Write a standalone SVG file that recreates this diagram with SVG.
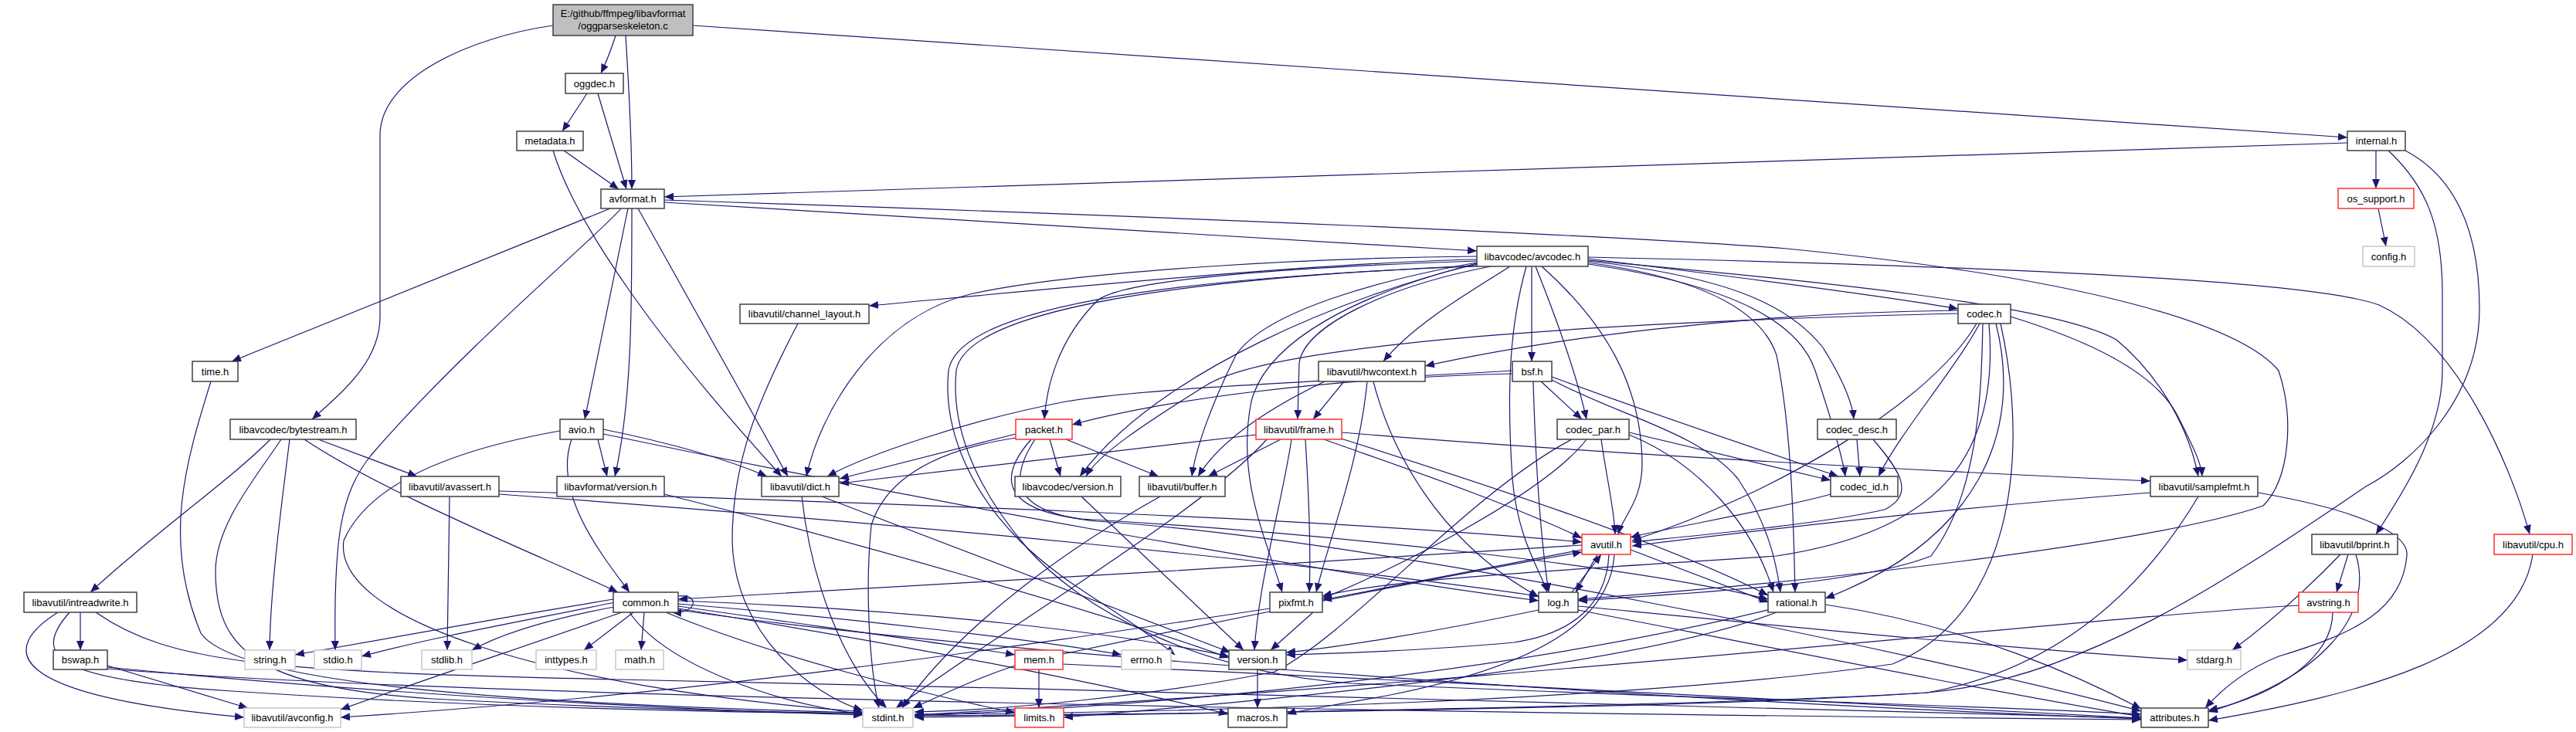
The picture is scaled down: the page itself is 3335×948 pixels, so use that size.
<svg xmlns="http://www.w3.org/2000/svg" width="3335" height="948" viewBox="0 0 3335 948">
<style>
rect{fill:#fff;stroke:#404040;stroke-width:1.5}
rect.gf{fill:#bfbfbf}
rect.r{stroke:#ff3030}
rect.g{stroke:#c8c8c8}
text{font-family:"Liberation Sans",Arial,sans-serif;font-size:13px;text-anchor:middle;fill:#000}
#edges path{fill:none;stroke:#191970;stroke-width:1.2;marker-end:url(#a)}
</style>
<defs><marker id="a" markerUnits="userSpaceOnUse" markerWidth="12" markerHeight="10" refX="12" refY="5" orient="auto"><path d="M0,0 L12,5 L0,10 z" fill="#191970"/></marker></defs>
<rect x="0" y="0" width="3335" height="948" style="fill:#fff;stroke:none"/>
<g id="edges">
<path d="M797,46 C792,62 785,80 778,95"/>
<path d="M810,46 C814,110 818,180 818,245"/>
<path d="M897,33 L3039,178"/>
<path d="M716,33 C610,48 492,100 492,175 L492,410 C492,470 440,510 404,543"/>
<path d="M760,121 L728,170"/>
<path d="M774,121 L811,245"/>
<path d="M730,195 L801,245"/>
<path d="M716,195 C745,290 850,440 1012,617"/>
<path d="M3039,185 L860,255"/>
<path d="M3076,195 L3076,244"/>
<path d="M3092,195 C3140,240 3162,290 3162,380 L3162,480 C3162,560 3110,640 3076,692"/>
<path d="M3114,195 C3180,230 3210,300 3210,400 C3210,520 3120,600 3063,630 C2900,740 2700,880 2495,897 C2200,918 1500,925 1184,927"/>
<path d="M3079,270 L3089,319"/>
<path d="M790,270 L300,468"/>
<path d="M804,270 C780,300 600,450 480,590 C440,640 432,700 434,842"/>
<path d="M813,270 L757,543"/>
<path d="M818,270 C818,400 818,520 796,617"/>
<path d="M826,270 L1020,617"/>
<path d="M860,262 L1912,325"/>
<path d="M860,259 C1500,280 2100,305 2313,322 C2700,360 2900,420 2950,480 C2970,540 2965,620 2930,655 C2800,700 2400,750 2043,776"/>
<path d="M1912,336 C1700,340 1300,380 1125,396"/>
<path d="M1912,332 C1700,334 1400,350 1260,380 C1130,410 1060,540 1044,617"/>
<path d="M1912,338 C1700,345 1450,360 1420,390 C1370,440 1355,500 1352,543"/>
<path d="M1912,342 C1750,380 1500,480 1398,617"/>
<path d="M1912,340 C1800,360 1640,400 1600,460 C1570,520 1548,580 1543,617"/>
<path d="M1912,345 C1500,360 1240,400 1228,480 C1220,560 1260,640 1320,700 C1380,760 1450,790 1521,848"/>
<path d="M1912,344 C1500,362 1250,405 1238,480 C1230,560 1270,640 1330,710 C1400,790 1550,870 1750,885 C2200,905 2600,915 2772,925"/>
<path d="M1930,345 C1800,370 1690,420 1682,470 L1680,543"/>
<path d="M1955,345 C1900,380 1830,420 1791,468"/>
<path d="M1983,345 L1983,468"/>
<path d="M1988,345 C2010,400 2040,480 2054,543"/>
<path d="M1996,345 C2080,420 2125,500 2126,600 C2126,650 2100,670 2095,692"/>
<path d="M1976,345 C1955,420 1950,500 1958,620 C1965,700 1995,740 2003,767"/>
<path d="M1912,341 C1760,380 1640,440 1620,520 C1600,620 1640,700 1660,767"/>
<path d="M2056,340 C2200,360 2280,400 2300,460 C2320,560 2322,680 2324,767"/>
<path d="M2056,342 C2250,370 2330,420 2350,480 C2370,540 2385,590 2389,617"/>
<path d="M2056,338 C2250,360 2320,400 2360,450 C2385,490 2398,520 2400,543"/>
<path d="M2056,335 C2300,365 2450,385 2535,400"/>
<path d="M2056,337 C2300,360 2650,390 2740,440 C2800,490 2835,560 2846,617"/>
<path d="M2056,333 C2600,345 3000,365 3080,395 C3180,440 3250,600 3275,692"/>
<path d="M2535,402 C2250,405 2000,440 1845,474"/>
<path d="M2535,406 C2150,415 1650,440 1560,500 C1480,550 1420,590 1406,617"/>
<path d="M2559,419 C2500,520 2300,640 2113,700"/>
<path d="M2563,419 C2530,480 2460,560 2432,617"/>
<path d="M2567,419 C2565,520 2560,640 2500,720 C2400,760 2150,770 2043,778"/>
<path d="M2575,419 C2590,600 2500,690 2300,720 C2000,740 1800,750 1712,772"/>
<path d="M2584,419 C2620,560 2560,700 2363,775"/>
<path d="M2590,419 C2630,600 2600,800 2450,860 C2100,910 1500,923 1184,925"/>
<path d="M2603,410 C2700,440 2790,480 2820,540 C2840,580 2850,600 2851,617"/>
<path d="M1958,484 C1700,490 1500,520 1388,550"/>
<path d="M1958,480 C1800,490 1500,500 1380,520 C1250,545 1120,590 1071,617"/>
<path d="M1995,494 L2048,543"/>
<path d="M2009,488 C2150,540 2300,590 2380,617"/>
<path d="M2009,492 C2100,540 2200,560 2250,620 C2290,680 2300,730 2305,767"/>
<path d="M1985,494 C1988,600 1995,700 2005,767"/>
<path d="M2109,560 L2370,622"/>
<path d="M2109,563 C2200,600 2270,680 2296,767"/>
<path d="M2073,569 C2080,620 2090,660 2091,692"/>
<path d="M2054,569 C2000,640 1800,740 1712,775"/>
<path d="M2035,569 C1900,640 1750,820 1650,870 C1500,900 1300,920 1184,922"/>
<path d="M2404,569 L2408,617"/>
<path d="M2425,569 C2460,610 2480,640 2440,660 C2350,680 2180,695 2113,702"/>
<path d="M2370,640 C2300,660 2150,685 2111,696"/>
<path d="M1315,562 L1087,620"/>
<path d="M1315,567 C1230,580 1150,610 1128,680 C1120,760 1125,860 1138,917"/>
<path d="M1359,569 L1373,617"/>
<path d="M1380,569 L1500,617"/>
<path d="M1335,569 C1290,620 1300,660 1400,672 C1700,690 2100,730 2289,776"/>
<path d="M1340,569 C1300,630 1320,665 1420,675 C1800,700 2500,850 2772,921"/>
<path d="M1626,563 L1087,626"/>
<path d="M1658,569 L1564,617"/>
<path d="M1737,560 C2100,590 2500,610 2784,623"/>
<path d="M1714,569 C1800,600 1950,650 2048,697"/>
<path d="M1730,566 C1900,620 2150,700 2289,771"/>
<path d="M1690,569 C1695,650 1697,720 1695,767"/>
<path d="M1672,569 C1660,650 1630,750 1624,842"/>
<path d="M1640,569 C1560,660 1290,820 1160,917"/>
<path d="M1740,494 L1700,543"/>
<path d="M1715,494 C1640,530 1580,570 1551,617"/>
<path d="M1778,494 C1800,580 1860,700 1992,773"/>
<path d="M1770,494 C1760,600 1720,700 1704,767"/>
<path d="M1033,419 C980,520 948,600 948,700 C950,820 1050,900 1117,920"/>
<path d="M1038,643 C1050,750 1090,860 1148,917"/>
<path d="M1064,643 L1593,845"/>
<path d="M1502,643 C1400,700 1250,800 1168,917"/>
<path d="M1400,643 L1610,842"/>
<path d="M860,640 C1100,700 1450,800 1591,852"/>
<path d="M2784,638 C2500,660 2250,690 2113,707"/>
<path d="M2846,643 C2800,720 2700,860 2495,897 C2200,915 1500,925 1184,929"/>
<path d="M2923,638 C3050,660 3120,690 3116,720 C3110,790 3050,820 2950,850 C2900,870 2870,900 2855,917"/>
<path d="M3279,718 C3260,850 3050,900 2859,933"/>
<path d="M2048,706 C1700,728 1200,760 878,776"/>
<path d="M2068,718 L2040,767"/>
<path d="M2111,712 L2290,780"/>
<path d="M2083,718 C2080,780 2040,820 1960,832 C1850,842 1720,847 1665,848"/>
<path d="M2090,718 C2085,800 2000,860 1800,900 C1720,915 1680,920 1666,925"/>
<path d="M2048,712 C1900,740 1770,765 1712,777"/>
<path d="M2035,767 L2073,718"/>
<path d="M2043,785 C2300,810 2600,840 2832,855"/>
<path d="M2043,790 C2300,840 2600,900 2772,928"/>
<path d="M1992,790 C1850,820 1720,840 1665,845"/>
<path d="M2289,790 C2000,860 1600,910 1184,927"/>
<path d="M2300,793 C2100,870 1600,910 1377,929"/>
<path d="M2363,783 C2550,810 2700,880 2772,918"/>
<path d="M1644,788 C1300,840 900,900 441,929"/>
<path d="M1700,793 L1645,842"/>
<path d="M1628,867 L1628,917"/>
<path d="M878,772 C905,768 905,795 870,793"/>
<path d="M878,782 C1100,800 1350,830 1452,848"/>
<path d="M820,793 L756,842"/>
<path d="M834,793 L830,842"/>
<path d="M800,785 C720,800 650,820 611,842"/>
<path d="M796,780 C700,800 560,825 468,850"/>
<path d="M794,776 C650,800 480,830 382,848"/>
<path d="M805,793 C700,830 550,880 441,919"/>
<path d="M862,793 C1000,850 1200,900 1314,923"/>
<path d="M815,793 C860,860 1000,910 1117,925"/>
<path d="M878,785 C1050,810 1200,830 1314,848"/>
<path d="M878,778 C1200,790 1450,820 1591,850"/>
<path d="M878,788 C1200,840 1450,890 1590,925"/>
<path d="M878,790 C1300,850 2200,910 2772,931"/>
<path d="M1345,867 L1345,917"/>
<path d="M1314,862 C1260,880 1220,900 1182,917"/>
<path d="M1376,847 C1600,800 1900,740 2048,715"/>
<path d="M1376,860 C1800,880 2500,915 2772,930"/>
<path d="M774,569 L786,617"/>
<path d="M781,556 C850,570 930,590 993,617"/>
<path d="M781,562 C1200,650 1700,740 1992,778"/>
<path d="M740,569 C715,640 780,720 815,767"/>
<path d="M725,558 C600,580 480,620 445,700 C430,800 700,890 1117,922"/>
<path d="M3040,718 L3025,767"/>
<path d="M3030,718 C2970,780 2920,820 2890,842"/>
<path d="M3050,718 C3075,800 3000,880 2859,922"/>
<path d="M3020,793 C3020,850 2950,900 2859,920"/>
<path d="M2976,784 C2700,800 2000,880 1184,926"/>
<path d="M350,569 C300,620 200,690 117,767"/>
<path d="M364,569 C330,620 279,680 279,740 C279,840 330,890 560,905 C800,918 1000,922 1117,924"/>
<path d="M375,569 C365,650 350,760 349,842"/>
<path d="M394,569 C500,640 700,720 800,767"/>
<path d="M412,569 L540,617"/>
<path d="M582,643 L579,842"/>
<path d="M646,636 C1100,650 1700,670 2048,702"/>
<path d="M646,640 C1200,680 1700,730 1992,772"/>
<path d="M104,793 L104,842"/>
<path d="M75,793 C0,840 0,900 316,929"/>
<path d="M90,793 C40,850 70,880 300,895 C600,915 900,922 1117,924"/>
<path d="M124,793 C220,860 350,870 800,880 C1500,895 2300,915 2772,930"/>
<path d="M139,862 L321,917"/>
<path d="M139,864 C500,900 900,920 1117,926"/>
<path d="M139,866 C600,905 2000,925 2772,932"/>
<path d="M273,494 C240,600 210,700 260,820 C300,880 600,910 1117,923"/>
</g>
<g id="n_root"><rect class="gf" x="716" y="6" width="181" height="40"/><text x="806.5" y="22">E:/github/ffmpeg/libavformat</text><text x="806.5" y="38">/oggparseskeleton.c</text></g>
<g id="n_oggdec"><rect x="732" y="95" width="75" height="26"/><text x="769.5" y="112.5">oggdec.h</text></g>
<g id="n_metadata"><rect x="669" y="170" width="86" height="25"/><text x="712" y="187">metadata.h</text></g>
<g id="n_avformat"><rect x="778" y="245" width="82" height="25"/><text x="819" y="262">avformat.h</text></g>
<g id="n_internal"><rect x="3039" y="170" width="75" height="25"/><text x="3076.5" y="187">internal.h</text></g>
<g id="n_os_support"><rect class="r" x="3027" y="244" width="98" height="26"/><text x="3076" y="261.5">os_support.h</text></g>
<g id="n_config"><rect class="g" x="3059" y="319" width="67" height="26"/><text x="3092.5" y="336.5">config.h</text></g>
<g id="n_avcodec"><rect x="1912" y="319" width="144" height="26"/><text x="1984" y="336.5">libavcodec/avcodec.h</text></g>
<g id="n_channel_layout"><rect x="958" y="394" width="167" height="25"/><text x="1041.5" y="411">libavutil/channel_layout.h</text></g>
<g id="n_codec"><rect x="2535" y="394" width="68" height="25"/><text x="2569" y="411">codec.h</text></g>
<g id="n_time"><rect x="249" y="468" width="59" height="26"/><text x="278.5" y="485.5">time.h</text></g>
<g id="n_hwcontext"><rect x="1707" y="468" width="138" height="26"/><text x="1776" y="485.5">libavutil/hwcontext.h</text></g>
<g id="n_bsf"><rect x="1958" y="468" width="51" height="26"/><text x="1983.5" y="485.5">bsf.h</text></g>
<g id="n_bytestream"><rect x="298" y="543" width="163" height="26"/><text x="379.5" y="560.5">libavcodec/bytestream.h</text></g>
<g id="n_avio"><rect x="725" y="543" width="56" height="26"/><text x="753" y="560.5">avio.h</text></g>
<g id="n_packet"><rect class="r" x="1315" y="543" width="73" height="26"/><text x="1351.5" y="560.5">packet.h</text></g>
<g id="n_frame"><rect class="r" x="1626" y="543" width="111" height="26"/><text x="1681.5" y="560.5">libavutil/frame.h</text></g>
<g id="n_codec_par"><rect x="2016" y="543" width="93" height="26"/><text x="2062.5" y="560.5">codec_par.h</text></g>
<g id="n_codec_desc"><rect x="2353" y="543" width="102" height="26"/><text x="2404" y="560.5">codec_desc.h</text></g>
<g id="n_avassert"><rect x="519" y="617" width="127" height="26"/><text x="582.5" y="634.5">libavutil/avassert.h</text></g>
<g id="n_lavf_version"><rect x="721" y="617" width="139" height="26"/><text x="790.5" y="634.5">libavformat/version.h</text></g>
<g id="n_dict"><rect x="986" y="617" width="100" height="26"/><text x="1036" y="634.5">libavutil/dict.h</text></g>
<g id="n_lavc_version"><rect x="1314" y="617" width="137" height="26"/><text x="1382.5" y="634.5">libavcodec/version.h</text></g>
<g id="n_buffer"><rect x="1475" y="617" width="111" height="26"/><text x="1530.5" y="634.5">libavutil/buffer.h</text></g>
<g id="n_codec_id"><rect x="2370" y="617" width="87" height="26"/><text x="2413.5" y="634.5">codec_id.h</text></g>
<g id="n_samplefmt"><rect x="2784" y="617" width="139" height="26"/><text x="2853.5" y="634.5">libavutil/samplefmt.h</text></g>
<g id="n_avutil"><rect class="r" x="2048" y="692" width="63" height="26"/><text x="2079.5" y="709.5">avutil.h</text></g>
<g id="n_bprint"><rect x="2993" y="692" width="111" height="26"/><text x="3048.5" y="709.5">libavutil/bprint.h</text></g>
<g id="n_cpu"><rect class="r" x="3229" y="692" width="101" height="26"/><text x="3279.5" y="709.5">libavutil/cpu.h</text></g>
<g id="n_intreadwrite"><rect x="31" y="767" width="146" height="26"/><text x="104" y="784.5">libavutil/intreadwrite.h</text></g>
<g id="n_common"><rect x="794" y="767" width="84" height="26"/><text x="836" y="784.5">common.h</text></g>
<g id="n_pixfmt"><rect x="1644" y="767" width="68" height="26"/><text x="1678" y="784.5">pixfmt.h</text></g>
<g id="n_log"><rect x="1992" y="767" width="51" height="26"/><text x="2017.5" y="784.5">log.h</text></g>
<g id="n_rational"><rect x="2289" y="767" width="74" height="26"/><text x="2326" y="784.5">rational.h</text></g>
<g id="n_avstring"><rect class="r" x="2976" y="767" width="77" height="26"/><text x="3014.5" y="784.5">avstring.h</text></g>
<g id="n_bswap"><rect x="69" y="842" width="70" height="25"/><text x="104" y="859">bswap.h</text></g>
<g id="n_string"><rect class="g" x="317" y="842" width="65" height="25"/><text x="349.5" y="859">string.h</text></g>
<g id="n_stdio"><rect class="g" x="407" y="842" width="61" height="25"/><text x="437.5" y="859">stdio.h</text></g>
<g id="n_stdlib"><rect class="g" x="546" y="842" width="65" height="25"/><text x="578.5" y="859">stdlib.h</text></g>
<g id="n_inttypes"><rect class="g" x="694" y="842" width="78" height="25"/><text x="733" y="859">inttypes.h</text></g>
<g id="n_math"><rect class="g" x="797" y="842" width="62" height="25"/><text x="828" y="859">math.h</text></g>
<g id="n_mem"><rect class="r" x="1314" y="842" width="62" height="25"/><text x="1345" y="859">mem.h</text></g>
<g id="n_errno"><rect class="g" x="1452" y="842" width="64" height="25"/><text x="1484" y="859">errno.h</text></g>
<g id="n_version"><rect x="1591" y="842" width="74" height="25"/><text x="1628" y="859">version.h</text></g>
<g id="n_stdarg"><rect class="g" x="2832" y="842" width="69" height="25"/><text x="2866.5" y="859">stdarg.h</text></g>
<g id="n_avconfig"><rect class="g" x="316" y="917" width="125" height="25"/><text x="378.5" y="934">libavutil/avconfig.h</text></g>
<g id="n_stdint"><rect class="g" x="1117" y="917" width="65" height="25"/><text x="1149.5" y="934">stdint.h</text></g>
<g id="n_limits"><rect class="r" x="1314" y="917" width="63" height="25"/><text x="1345.5" y="934">limits.h</text></g>
<g id="n_macros"><rect x="1590" y="917" width="76" height="25"/><text x="1628" y="934">macros.h</text></g>
<g id="n_attributes"><rect x="2772" y="917" width="87" height="25"/><text x="2815.5" y="934">attributes.h</text></g>
</svg>
